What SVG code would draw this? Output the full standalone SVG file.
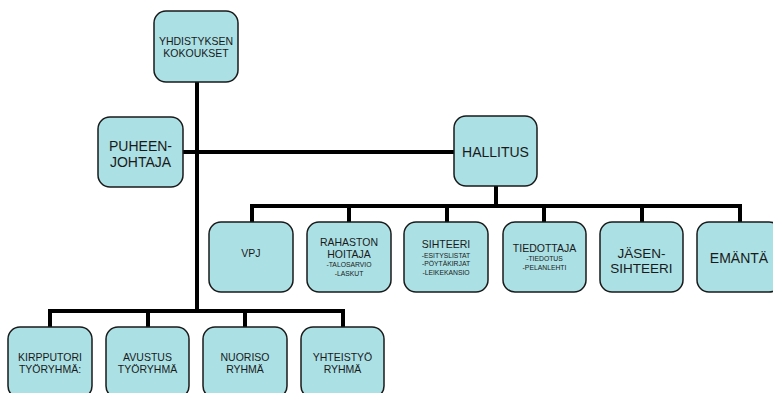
<svg xmlns="http://www.w3.org/2000/svg" width="773" height="393" viewBox="0 0 773 393">
<style>
.box{fill:#ABE0E4;stroke:#1a1a1a;stroke-width:1.5}
.ln{stroke:#000;stroke-width:4;fill:none;stroke-linecap:square}
text{font-family:"Liberation Sans",Arial,sans-serif;fill:#1a1a1a;text-anchor:middle}
.m{font-size:10.5px}
.l{font-size:14px}
.s{font-size:6.8px}
</style>
<rect width="773" height="393" fill="#fff"/>
<g id="connectors">
<path class="ln" d="M197 82 V311"/>
<path class="ln" d="M183 152 H454"/>
<path class="ln" d="M496 186 V206"/>
<path class="ln" d="M252 222 V206 H740 V222"/>
<path class="ln" d="M349 206 V222 M447 206 V222 M544 206 V222 M642 206 V222"/>
<path class="ln" d="M50 327 V311 H343 V327"/>
<path class="ln" d="M148 311 V327 M245 311 V327"/>
</g>
<g id="n-kokoukset"><rect class="box" x="154" y="11" width="84" height="71" rx="12"/><text class="m" x="196" y="45">YHDISTYKSEN</text><text class="m" x="196" y="57">KOKOUKSET</text></g>
<g id="n-puheenjohtaja"><rect class="box" x="98" y="117" width="85" height="70" rx="12"/><text class="l" x="140.5" y="151">PUHEEN-</text><text class="l" x="140.5" y="167">JOHTAJA</text></g>
<g id="n-hallitus"><rect class="box" x="454" y="116" width="83" height="70" rx="12"/><text class="l" x="495.5" y="157">HALLITUS</text></g>
<g id="n-vpj"><rect class="box" x="209" y="222" width="84" height="70" rx="12"/><text class="m" x="251" y="257">VPJ</text></g>
<g id="n-rahaston"><rect class="box" x="307" y="222" width="84" height="70" rx="12"/><text class="m" x="349" y="246">RAHASTON</text><text class="m" x="349" y="258">HOITAJA</text><text class="s" x="349" y="267">-TALOSARVIO</text><text class="s" x="349" y="276">-LASKUT</text></g>
<g id="n-sihteeri"><rect class="box" x="404" y="222" width="84" height="70" rx="12"/><text class="m" x="446" y="248">SIHTEERI</text><text class="s" x="446" y="258">-ESITYSLISTAT</text><text class="s" x="446" y="266">-PÖYTÄKIRJAT</text><text class="s" x="446" y="275">-LEIKEKANSIO</text></g>
<g id="n-tiedottaja"><rect class="box" x="503" y="222" width="83" height="70" rx="12"/><text class="m" x="544.5" y="252">TIEDOTTAJA</text><text class="s" x="544.5" y="261">-TIEDOTUS</text><text class="s" x="544.5" y="270">-PELANLEHTI</text></g>
<g id="n-jasensihteeri"><rect class="box" x="600" y="222" width="83" height="70" rx="12"/><text class="l" x="641.5" y="258" style="font-size:13.5px">JÄSEN-</text><text class="l" x="641.5" y="272.5" style="font-size:13.5px">SIHTEERI</text></g>
<g id="n-emanta"><rect class="box" x="697" y="222" width="84" height="70" rx="12"/><text class="l" x="739" y="263">EMÄNTÄ</text></g>
<g id="n-kirpputori"><rect class="box" x="8" y="327" width="84" height="71" rx="12"/><text class="m" x="50" y="361">KIRPPUTORI</text><text class="m" x="50" y="373">TYÖRYHMÄ:</text></g>
<g id="n-avustus"><rect class="box" x="106" y="327" width="83" height="71" rx="12"/><text class="m" x="147.5" y="361">AVUSTUS</text><text class="m" x="147.5" y="373">TYÖRYHMÄ</text></g>
<g id="n-nuoriso"><rect class="box" x="203" y="327" width="84" height="71" rx="12"/><text class="m" x="245" y="361">NUORISO</text><text class="m" x="245" y="373">RYHMÄ</text></g>
<g id="n-yhteistyo"><rect class="box" x="301" y="327" width="83" height="71" rx="12"/><text class="m" x="342.5" y="361">YHTEISTYÖ</text><text class="m" x="342.5" y="373">RYHMÄ</text></g>
</svg>
